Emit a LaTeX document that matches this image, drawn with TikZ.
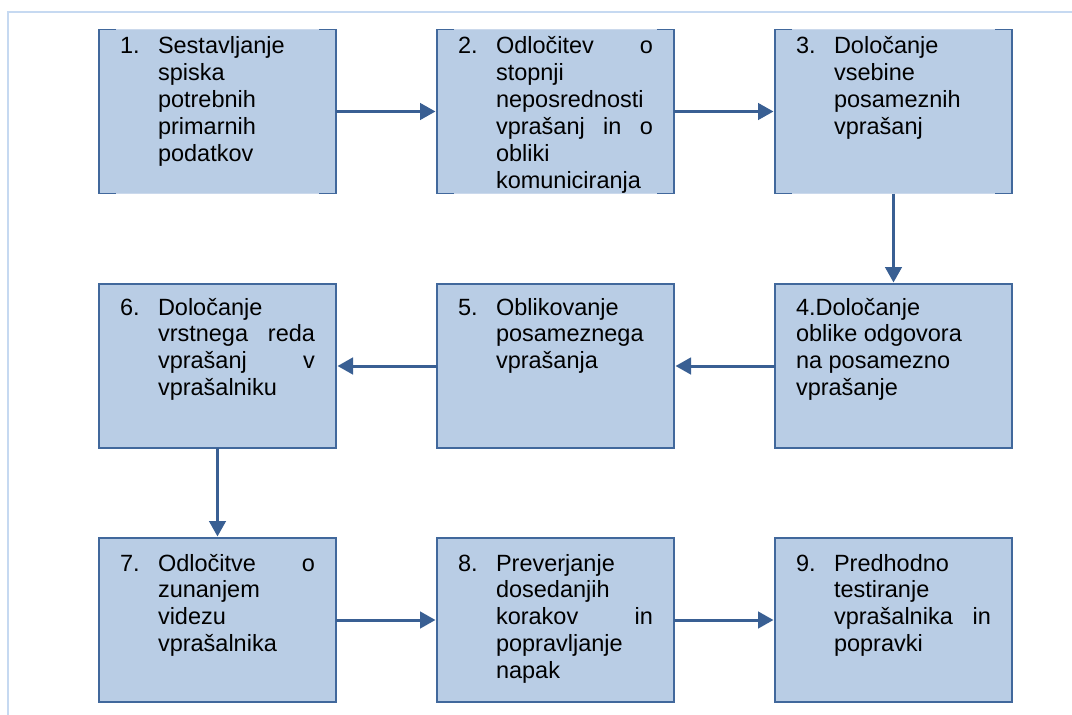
\documentclass[tikz,border=0pt]{standalone}
\usepackage{fontspec}
\setmainfont{Liberation Sans}
\usetikzlibrary{arrows.meta}

\definecolor{boxfill}{HTML}{B9CDE5}
\definecolor{boxline}{HTML}{41689C}
\definecolor{arrowc}{HTML}{395F93}
\definecolor{framec}{HTML}{C6D9F1}
\definecolor{edgelight}{HTML}{CBD9EC}

% numbered step: #1 = depth of first baseline, #2 = number, #3 = lines
\newcommand{\numstep}[3]{%
  \parbox[c][164pt][t]{237pt}{\rule{0pt}{#1}\hspace*{21pt}\makebox[38pt][l]{#2}\parbox[t]{157pt}{#3}}}
% step whose number runs into its text
\newcommand{\plainstep}[2]{%
  \parbox[c][164pt][t]{237pt}{\rule{0pt}{#1}\hspace*{21pt}\parbox[t]{200pt}{#2}}}

\tikzset{
  stepbox/.style={rectangle, fill=boxfill, inner sep=0pt, outer sep=0pt,
    minimum width=237pt, minimum height=164pt,
    font=\fontsize{23.5pt}{26.9pt}\selectfont},
  framedbox/.style={stepbox, draw=boxline, line width=1.6pt},
  flow/.style={draw=arrowc, line width=3pt, shorten >=1.5pt,
    -{Triangle[length=15.5pt,width=16.5pt]}},
  sideedge/.style={draw=boxline, line width=1.6pt},
  lightedge/.style={draw=edgelight, line width=1.6pt}
}

\begin{document}
\begin{tikzpicture}[x=1pt,y=-1pt]
\useasboundingbox (0,0) rectangle (1072,715);

% page frame
\draw[framec, line width=2pt] (8,715) -- (8,11.5) -- (1072,11.5);

% first row
\node[stepbox] (b1) at (217.5,111.5) {\numstep{24pt}{1.}{Sestavljanje\\spiska\\potrebnih\\primarnih\\podatkov}};
\node[stepbox] (b2) at (555.5,111.5) {\numstep{24pt}{2.}{Odločitev\hfill o\\stopnji\\neposrednosti\\vprašanj\hfill in\hfill o\\obliki\\komuniciranja}};
\node[stepbox] (b3) at (893.5,111.5) {\numstep{24pt}{3.}{Določanje\\vsebine\\posameznih\\vprašanj}};

% first-row outlines: dark sides, light top and bottom with dark corner ticks
\foreach \b in {b1,b2,b3}{
  \draw[lightedge] (\b.north west) -- (\b.north east);
  \draw[lightedge] (\b.south west) -- (\b.south east);
  \draw[sideedge] ([xshift=17pt]\b.north west) -- (\b.north west) -- (\b.south west) -- ([xshift=17pt]\b.south west);
  \draw[sideedge] ([xshift=-17pt]\b.north east) -- (\b.north east) -- (\b.south east) -- ([xshift=-17pt]\b.south east);
}

% second row
\node[framedbox] (b4) at (893.5,366) {\plainstep{31pt}{4.Določanje\\oblike odgovora\\na posamezno\\vprašanje}};
\node[framedbox] (b5) at (555.5,366) {\numstep{31pt}{5.}{Oblikovanje\\posameznega\\vprašanja}};
\node[framedbox] (b6) at (217.5,366) {\numstep{31pt}{6.}{Določanje\\vrstnega\hfill reda\\vprašanj\hfill v\\vprašalniku}};

% third row
\node[framedbox] (b7) at (217.5,620) {\numstep{33pt}{7.}{Odločitve\hfill o\\zunanjem\\videzu\\vprašalnika}};
\node[framedbox] (b8) at (555.5,620) {\numstep{33pt}{8.}{Preverjanje\\dosedanjih\\korakov\hfill in\\popravljanje\\napak}};
\node[framedbox] (b9) at (893.5,620) {\numstep{33pt}{9.}{Predhodno\\testiranje\\vprašalnika\hfill in\\popravki}};

% connectors
\draw[flow] (b1) -- (b2);
\draw[flow] (b2) -- (b3);
\draw[flow] (b3) -- (b4);
\draw[flow] (b4) -- (b5);
\draw[flow] (b5) -- (b6);
\draw[flow] (b6) -- (b7);
\draw[flow] (b7) -- (b8);
\draw[flow] (b8) -- (b9);
\end{tikzpicture}
\end{document}
